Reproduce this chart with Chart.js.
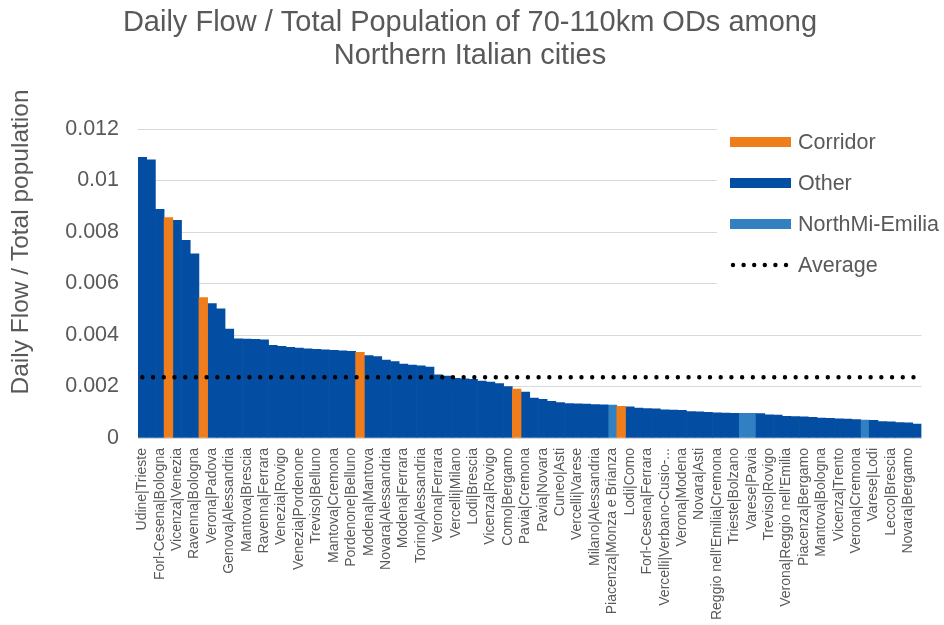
<!DOCTYPE html>
<html>
<head>
<meta charset="UTF-8">
<title>Daily Flow / Total Population</title>
<script src="https://cdn.jsdelivr.net/npm/chart.js@4.4.0/dist/chart.umd.min.js"></script>
<style>
  body { margin: 0; background: #fff; }
  #box { position: relative; width: 944px; height: 625px; }
</style>
</head>
<body>
<div id="box"><canvas id="flowChart"></canvas></div>
<script>
// labels shown under every other bar
var shownLabels = [
  'Udine|Trieste', 'Forl-Cesena|Bologna', 'Vicenza|Venezia', 'Ravenna|Bologna', 'Verona|Padova',
  'Genova|Alessandria', 'Mantova|Brescia', 'Ravenna|Ferrara', 'Venezia|Rovigo', 'Venezia|Pordenone',
  'Treviso|Belluno', 'Mantova|Cremona', 'Pordenone|Belluno', 'Modena|Mantova', 'Novara|Alessandria',
  'Modena|Ferrara', 'Torino|Alessandria', 'Verona|Ferrara', 'Vercelli|Milano', 'Lodi|Brescia',
  'Vicenza|Rovigo', 'Como|Bergamo', 'Pavia|Cremona', 'Pavia|Novara', 'Cuneo|Asti',
  'Vercelli|Varese', 'Milano|Alessandria', 'Piacenza|Monza e Brianza', 'Lodi|Como', 'Forl-Cesena|Ferrara',
  'Vercelli|Verbano-Cusio-...', 'Verona|Modena', 'Novara|Asti', "Reggio nell'Emilia|Cremona", 'Trieste|Bolzano',
  'Varese|Pavia', 'Treviso|Rovigo', "Verona|Reggio nell'Emilia", 'Piacenza|Bergamo', 'Mantova|Bologna',
  'Vicenza|Trento', 'Verona|Cremona', 'Varese|Lodi', 'Lecco|Brescia', 'Novara|Bergamo'
];

// daily flow / total population, one per OD pair (sorted)
var ratios = [
  0.0109, 0.0108, 0.00888, 0.00856, 0.00845, 0.00768, 0.00715, 0.00545, 0.00522, 0.00502,
  0.00423, 0.00385, 0.00384, 0.00383, 0.00381, 0.00360, 0.00356, 0.00352, 0.00349, 0.00346,
  0.00344, 0.00342, 0.00340, 0.00339, 0.00337, 0.00333, 0.00320, 0.00316, 0.00303, 0.00297,
  0.00287, 0.00283, 0.00280, 0.00275, 0.00245, 0.00240, 0.00232, 0.00230, 0.00228, 0.00221,
  0.00217, 0.00211, 0.00200, 0.00190, 0.00178, 0.00155, 0.00150, 0.00142, 0.00138, 0.00134,
  0.00133, 0.00132, 0.00130, 0.00129, 0.00128, 0.00123, 0.00121, 0.00116, 0.00114, 0.00113,
  0.00109, 0.00108, 0.00107, 0.00103, 0.00102, 0.00100, 0.00098, 0.00097, 0.00096, 0.00096,
  0.00096, 0.00095, 0.00090, 0.00089, 0.00084, 0.00083, 0.00082, 0.00080, 0.00077, 0.00076,
  0.00074, 0.00073, 0.00072, 0.00070, 0.00069, 0.00064, 0.00063, 0.00060, 0.00059, 0.00054
];

var corridorBars = [3, 7, 25, 43, 55];
var northMiEmiliaBars = [54, 69, 70, 83];
var averageRatio = 0.00236;

var seriesNames = ['Corridor', 'Other', 'NorthMi-Emilia', 'Average'];
var seriesColors = ['#EF7D1B', '#034EA2', '#3080C2', '#000000'];

var yTicks = [0, 0.002, 0.004, 0.006, 0.008, 0.01, 0.012];

var chartTitle = ['Daily Flow / Total Population of 70-110km ODs among', 'Northern Italian cities'];
var yTitle = 'Daily Flow / Total population';

var categories = ratios.map(function (v, i) { return i % 2 === 0 ? shownLabels[i / 2] : ''; });

function groupOf(i) {
  if (corridorBars.indexOf(i) >= 0) return 0;
  if (northMiEmiliaBars.indexOf(i) >= 0) return 2;
  return 1;
}
function seriesData(g) {
  return ratios.map(function (v, i) { return groupOf(i) === g ? v : null; });
}

var fontFamily = '"Liberation Sans", Arial, sans-serif';
var grey = '#595959';

// titles + legend, placed like the original (legend sits over the plot)
var decorations = {
  id: 'decorations',
  afterDraw: function (chart) {
    var ctx = chart.ctx;
    ctx.save();
    ctx.fillStyle = grey;
    ctx.textAlign = 'center';
    ctx.textBaseline = 'middle';
    ctx.font = '29px ' + fontFamily;
    ctx.fillText(chartTitle[0], 470, 23);
    ctx.fillText(chartTitle[1], 470, 56);

    ctx.save();
    ctx.translate(21, 242);
    ctx.rotate(-Math.PI / 2);
    ctx.font = '24.5px ' + fontFamily;
    ctx.fillText(yTitle, 0, 0);
    ctx.restore();

    ctx.fillStyle = '#ffffff';
    ctx.fillRect(717, 118, 227, 174);
    ctx.font = '21.5px ' + fontFamily;
    ctx.textAlign = 'left';
    for (var i = 0; i < seriesNames.length; i++) {
      var y = 142 + i * 41;
      if (i < 3) {
        ctx.fillStyle = seriesColors[i];
        ctx.fillRect(730, y - 5, 61, 10);
      } else {
        ctx.fillStyle = '#000';
        for (var d = 0; d < 6; d++) {
          ctx.beginPath();
          ctx.arc(733 + d * 10.6, y, 2.2, 0, Math.PI * 2);
          ctx.fill();
        }
      }
      ctx.fillStyle = grey;
      ctx.fillText(seriesNames[i], 798, y + 1);
    }
    ctx.restore();
  }
};

var ctx = document.getElementById('flowChart').getContext('2d');
var flowChart = new Chart(ctx, {
  type: 'bar',
  data: {
    labels: categories,
    datasets: [
      {
        type: 'line',
        label: seriesNames[3],
        data: ratios.map(function () { return averageRatio; }),
        borderColor: '#000',
        borderWidth: 4.4,
        borderDash: [0.01, 10.7],
        borderCapStyle: 'round',
        pointRadius: 0,
        order: 0
      },
      { label: seriesNames[0], data: seriesData(0), backgroundColor: seriesColors[0], order: 1 },
      { label: seriesNames[1], data: seriesData(1), backgroundColor: seriesColors[1], order: 1 },
      { label: seriesNames[2], data: seriesData(2), backgroundColor: seriesColors[2], order: 1 }
    ]
  },
  options: {
    responsive: true,
    maintainAspectRatio: false,
    animation: false,
    layout: { padding: { left: 0, right: 15, top: 129, bottom: 0 } },
    datasets: {
      bar: { grouped: false, barPercentage: 1, categoryPercentage: 1, borderWidth: 0 }
    },
    plugins: {
      legend: { display: false },
      tooltip: { enabled: false },
      title: { display: false }
    },
    scales: {
      x: {
        afterFit: function (scale) { scale.height = 187; },
        grid: { display: false, drawTicks: false },
        border: { display: true, color: '#d9d9d9', width: 1 },
        ticks: {
          autoSkip: false,
          minRotation: 90,
          maxRotation: 90,
          padding: 10,
          color: grey,
          font: { family: fontFamily, size: 14 }
        }
      },
      y: {
        min: 0,
        max: 0.012,
        afterFit: function (scale) { scale.width = 138; },
        afterBuildTicks: function (scale) {
          scale.ticks = yTicks.map(function (v) { return { value: v }; });
        },
        grid: { color: '#d9d9d9', lineWidth: 1, drawTicks: false },
        border: { display: false },
        ticks: {
          padding: 19,
          color: grey,
          font: { family: fontFamily, size: 21.5 },
          callback: function (v) { return String(v); }
        }
      }
    }
  },
  plugins: [decorations]
});
</script>
</body>
</html>
